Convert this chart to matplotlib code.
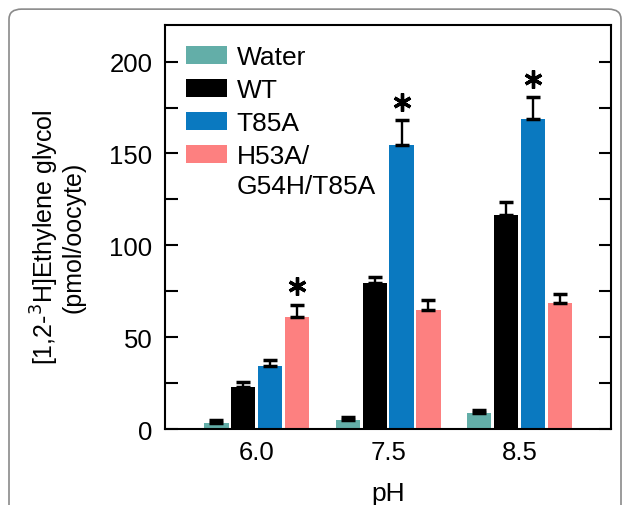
import numpy as np
import matplotlib
matplotlib.use("Agg")
import matplotlib.pyplot as plt
from matplotlib.patches import FancyBboxPatch

plt.rcParams['font.family'] = ['Liberation Sans', 'DejaVu Sans']

# data
ph_labels = ['6.0', '7.5', '8.5']
groups = ['Water', 'WT', 'T85A', 'H53A/\nG54H/T85A']
water = [3.3, 4.9, 8.5]
wt = [22.7, 79.4, 116.3]
t85a = [34.5, 154.8, 169.0]
h53a = [60.9, 64.7, 68.7]
water_err = [1.7, 1.8, 1.9]
wt_err = [2.7, 3.3, 7.2]
t85a_err = [3.1, 13.2, 11.5]
h53a_err = [6.7, 5.6, 4.9]
colors = ['#63aea8', '#000000', '#0a79c0', '#fd8080']

# significance marks: (group index, series index)
stars = [(0, 3), (1, 2), (2, 2)]

values = [water, wt, t85a, h53a]
errors = [water_err, wt_err, t85a_err, h53a_err]

fig = plt.figure(figsize=(6.27, 5.06), dpi=100)

# rounded frame around the panel
frame = FancyBboxPatch((9 / 627, -0.1), 612 / 627, 1.08,
                       boxstyle="round,pad=0,rounding_size=0.02",
                       transform=fig.transFigure, facecolor='none',
                       edgecolor='#8a8a8a', linewidth=1.2, zorder=0)
fig.patches.append(frame)

ax = fig.add_axes([0.263, 0.150, 0.712, 0.799])
ax.set_facecolor('none')

x = np.arange(len(ph_labels))
step = 0.205
width = 0.185
handles = []
for i, (vals, errs, c) in enumerate(zip(values, errors, colors)):
    pos = x + (i - 1.5) * step
    b = ax.bar(pos, vals, width=width, color=c, zorder=2)
    handles.append(b)
    ax.errorbar(pos, vals, yerr=[np.zeros(len(vals)), errs], fmt='none',
                ecolor='black', elinewidth=1.7, capsize=4.8, capthick=2.5,
                zorder=3)

for g, s in stars:
    xs = x[g] + (s - 1.5) * step
    ys = values[s][g] + errors[s][g] + 10
    ax.plot(xs, ys, marker=(6, 2, 0), ms=13, mew=2.4, color='black',
            zorder=4)

ax.set_xlim(-0.7, 2.7)
ax.set_ylim(0, 220)
ax.set_xticks(x)
ax.set_xticklabels(ph_labels)
ax.set_yticks([0, 50, 100, 150, 200])
ax.set_yticks([25, 75, 125, 175], minor=True)
ax.tick_params(axis='x', length=0, labelsize=18.5, pad=8)
ax.tick_params(axis='y', which='both', direction='in', length=9, width=1.5,
               right=True, labelsize=18.5, pad=9)
for sp in ax.spines.values():
    sp.set_linewidth(1.5)

fig.text(388 / 627, 0.0, 'pH', ha='center', va='bottom', fontsize=19)

fig.text(0.091, 0.531, '[1,2-$^{3}$H]Ethylene glycol\n(pmol/oocyte)',
         rotation=90, ha='center', va='center', multialignment='center',
         fontsize=18, linespacing=1.05)

# legend: last entry gets its second line as a separate text below
leg_labels = [g.split('\n')[0] for g in groups]
leg = ax.legend(handles, leg_labels, loc='upper left',
                bbox_to_anchor=(0.005, 0.995), frameon=False,
                fontsize=19, handlelength=1.55, handleheight=0.72,
                handletextpad=0.38, labelspacing=0.34, borderaxespad=0.3)
fig.canvas.draw()
last = leg.get_texts()[-1]
bb = last.get_window_extent()
fig.text(bb.x0 / fig.bbox.width, (bb.y0 - 30) / fig.bbox.height,
         groups[-1].split('\n')[1], ha='left', va='bottom', fontsize=19)

fig.savefig('out.png', dpi=100)
